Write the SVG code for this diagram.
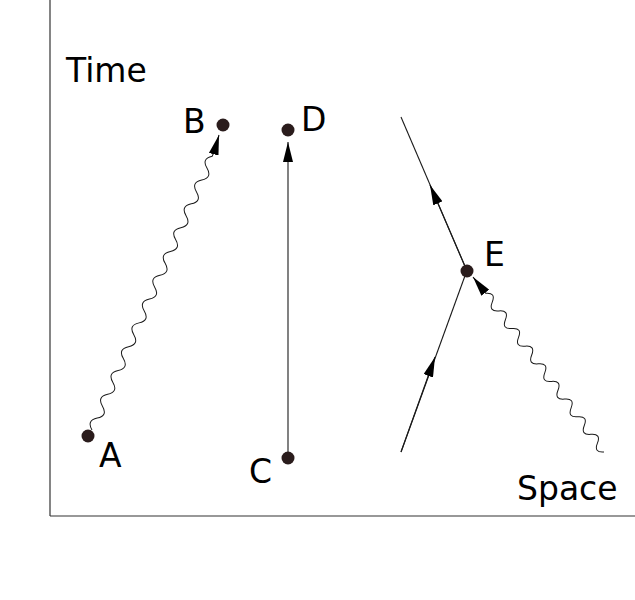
<svg xmlns="http://www.w3.org/2000/svg" width="635" height="600" viewBox="0 0 635 600">
<style>
.ax{stroke:#333;stroke-width:1.2;fill:none}
.ln{stroke:#1a1a1a;stroke-width:1.1;fill:none}
.wv{stroke:#1a1a1a;stroke-width:1;fill:none}
.dot{fill:#2a1c1c}
.lbl{font-family:"DejaVu Sans",sans-serif;font-size:33px;fill:#000}
</style>
<defs>
<marker id="arr" viewBox="0 0 20 10" refX="20" refY="5" markerWidth="20" markerHeight="10" markerUnits="userSpaceOnUse" orient="auto">
<path d="M0,0 L20,5 L0,10 z" fill="#000"/>
</marker>
</defs>
<rect width="635" height="600" fill="#fff"/>
<g id="axes">
<line class="ax" x1="50" y1="0" x2="50" y2="516"/>
<line class="ax" x1="50" y1="516" x2="635" y2="516"/>
<text class="lbl" x="66" y="82">Time</text>
<text class="lbl" x="517" y="500">Space</text>
</g>
<g id="connectors">
<path class="wv" transform="translate(92,430) rotate(-66.3)" d="M0,0 q6.5,-9 13,0 t13,0 t13,0 t13,0 t13,0 t13,0 t13,0 t13,0 t13,0 t13,0 t13,0 t13,0 t13,0 t13,0 t13,0 t13,0 t13,0 t13,0 t13,0 t13,0 t13,0 t13,0 t13,0 l4.6,0"/>
<path class="ln" d="M214,153 L219,135" marker-end="url(#arr)"/>
<line class="ln" x1="288" y1="458" x2="288" y2="142" marker-end="url(#arr)"/>
<line class="ln" x1="467" y1="271" x2="401" y2="117"/>
<path class="ln" d="M467,271 L430,185" marker-end="url(#arr)"/>
<line class="ln" x1="401" y1="452" x2="466" y2="273"/>
<path class="ln" d="M401,452 L435,357" marker-end="url(#arr)"/>
<path class="wv" transform="translate(604,452) rotate(-126.7)" d="M0,0 q5.5,-9 11,0 t11,0 t11,0 t11,0 t11,0 t11,0 t11,0 t11,0 t11,0 t11,0 t11,0 t11,0 t11,0 t11,0 t11,0 t11,0 t11,0 t11,0 l2.6,0"/>
<path class="ln" d="M484,291 L473,277" marker-end="url(#arr)"/>
</g>
<g id="A"><circle class="dot" cx="88" cy="436" r="6.5"/><text class="lbl" x="99" y="467">A</text></g>
<g id="B"><circle class="dot" cx="223" cy="125" r="6.5"/><text class="lbl" x="183" y="133">B</text></g>
<g id="C"><circle class="dot" cx="288" cy="458" r="6.5"/><text class="lbl" x="249" y="483">C</text></g>
<g id="D"><circle class="dot" cx="288" cy="130" r="6.5"/><text class="lbl" x="301" y="131">D</text></g>
<g id="E"><circle class="dot" cx="467" cy="271" r="6.5"/><text class="lbl" x="484" y="266">E</text></g>
</svg>
